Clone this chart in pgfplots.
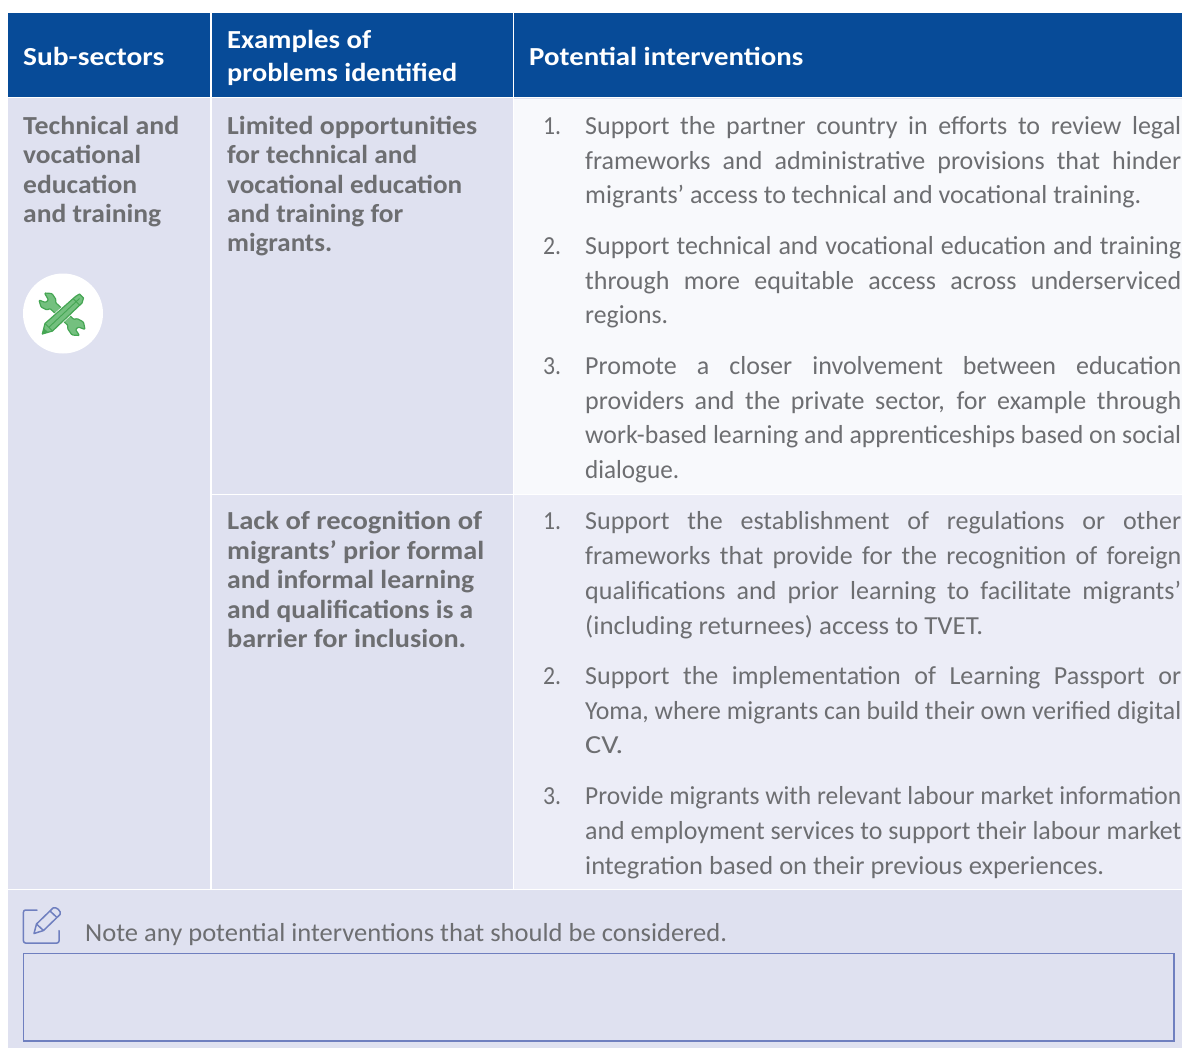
\documentclass[border=0pt]{standalone}
\usepackage{graphicx}
\usepackage{fontspec}
\setmainfont{Carlito}
\usepackage{pgfplots}
\pgfplotsset{compat=1.18}
\definecolor{hdr}{HTML}{074B98}
\definecolor{lav}{HTML}{DFE1F0}
\definecolor{rowa}{HTML}{F8F9FC}
\definecolor{rowb}{HTML}{ECEDF7}
\definecolor{txt}{HTML}{6D6E71}
\definecolor{boxc}{HTML}{6F7FBF}
\definecolor{grn}{HTML}{45A653}
\definecolor{grl}{HTML}{74C07F}
\newsavebox\lb
\newcommand\fitJ[2]{\sbox\lb{#2}\ifdim\wd\lb>#1pt\relax\resizebox{#1pt}{\height}{\usebox\lb}\else\makebox[#1pt][s]{#2}\fi}
\newcommand\fitN[2]{\sbox\lb{#2}\resizebox{#1pt}{\height}{\usebox\lb}}
\newcommand\J[4]{\node[anchor=base west,inner sep=0pt,text=txt,font=\fontsize{26}{30}\selectfont] at (axis cs:#1,#2) {\fitJ{#3}{#4}};}
\newcommand\N[4]{\node[anchor=base west,inner sep=0pt,text=txt,font=\fontsize{26}{30}\selectfont] at (axis cs:#1,#2) {\fitN{#3}{#4}};}
\newcommand\B[4]{\node[anchor=base west,inner sep=0pt,text=txt,font=\fontsize{26}{30}\selectfont\bfseries] at (axis cs:#1,#2) {\fitN{#3}{#4}};}
\newcommand\Hd[4]{\node[anchor=base west,inner sep=0pt,text=white,font=\fontsize{26}{30}\selectfont\bfseries] at (axis cs:#1,#2) {\fitN{#3}{#4}};}
\begin{document}
\begin{tikzpicture}
\begin{axis}[scale only axis,width=1182pt,height=1047pt,xmin=0,xmax=1182,ymin=-0.5,ymax=1046.5,y dir=reverse,hide axis,no marks]
% panels
\addplot[fill=white,draw=none] coordinates {(-2,-2)(1184,-2)(1184,1049)(-2,1049)} --cycle;
\addplot[fill=lav,draw=none] coordinates {(8,97)(1184,97)(1184,1049)(8,1049)} --cycle;
\addplot[fill=hdr,draw=none] coordinates {(8,12.5)(1184,12.5)(1184,97)(8,97)} --cycle;
\addplot[fill=rowa,draw=none] coordinates {(513.5,98)(1184,98)(1184,494)(513.5,494)} --cycle;
\addplot[fill=rowb,draw=none] coordinates {(513.5,494)(1184,494)(1184,889)(513.5,889)} --cycle;
% rules
\addplot[white,line width=1.5pt] coordinates {(8,97)(1184,97)};
\addplot[white,line width=1.5pt] coordinates {(8,889)(1184,889)};
\addplot[white,line width=1.5pt] coordinates {(211,494)(1184,494)};
\addplot[white,line width=1.5pt] coordinates {(211,12.5)(211,889)};
\addplot[white,line width=1.5pt] coordinates {(513.5,12.5)(513.5,889)};
% header
\Hd{23}{65}{141}{Sub-sectors}
\Hd{227}{48}{144}{Examples of}
\Hd{227}{81}{230}{problems identified}
\Hd{529}{65}{274}{Potential interventions}
% column 1
\B{23}{134}{156}{Technical and}
\B{23}{163}{118}{vocational}
\B{23}{193}{114}{education}
\B{23}{222}{138}{and training}
% column 2
\B{227}{134}{250}{Limited opportunities}
\B{227}{163}{190}{for technical and}
\B{227}{193}{235}{vocational education}
\B{227}{222}{176}{and training for}
\B{227}{251}{105}{migrants.}
\B{227}{529}{255}{Lack of recognition of}
\B{227}{559}{257}{migrants’ prior formal}
\B{227}{588}{247}{and informal learning}
\B{227}{618}{246}{and qualifications is a}
\B{227}{647}{239}{barrier for inclusion.}
% column 3
\N{543}{134}{18}{1.}
\J{585}{134}{596}{Support the partner country in efforts to review legal}
\J{585}{169}{596}{frameworks and administrative provisions that hinder}
\N{585}{203}{556}{migrants’ access to technical and vocational training.}
\N{543}{254}{18}{2.}
\J{585}{254}{596}{Support technical and vocational education and training}
\J{585}{289}{596}{through more equitable access across underserviced}
\N{585}{323}{83}{regions.}
\N{543}{374}{18}{3.}
\J{585}{374}{596}{Promote a closer involvement between education}
\J{585}{409}{596}{providers and the private sector, for example through}
\J{585}{443}{596}{work-based learning and apprenticeships based on social}
\N{585}{478}{94}{dialogue.}
\N{543}{529}{18}{1.}
\J{585}{529}{596}{Support the establishment of regulations or other}
\J{585}{564}{596}{frameworks that provide for the recognition of foreign}
\J{585}{599}{596}{qualifications and prior learning to facilitate migrants’}
\N{585}{634}{398}{(including returnees) access to TVET.}
\N{543}{684}{18}{2.}
\J{585}{684}{596}{Support the implementation of Learning Passport or}
\J{585}{719}{596}{Yoma, where migrants can build their own verified digital}
\N{585}{753}{38}{CV.}
\N{543}{804}{18}{3.}
\J{585}{804}{596}{Provide migrants with relevant labour market information}
\J{585}{839}{596}{and employment services to support their labour market}
\N{585}{874}{519}{integration based on their previous experiences.}
% note
\N{85}{941}{642}{Note any potential interventions that should be considered.}
\addplot[boxc,line width=1.1pt] coordinates {(23.5,953)(1174,953)(1174,1040.5)(23.5,1040.5)} --cycle;
% note icon
\draw[boxc,line width=1.5pt,line cap=round,line join=round,rounded corners=2pt] (37,909.5)--(23.5,909.5)--(23.5,942.5)--(59,942.5)--(59,930);
\draw[boxc,line width=1.5pt,line join=round] (34,933)--(36.5,923.5)--(53,907.5) .. controls (56,905.5) and (62,911) .. (60,914)--(43.5,930)--cycle;
\draw[boxc,line width=1.5pt] (36.5,923.5)--(43.5,930) (50,910.5)--(57,917);
% round tool icon
\fill[white] (63,313) circle[radius=40];
\draw[grn,fill=grl,line width=1.2pt,line join=round,rounded corners=1pt]
 (44.5,292.5)--(52,293)--(56,299)--(55.5,302)--(74,319)--(77,318)--(83.5,321.5)--(85,329)--(78.5,326.5)--(75.5,329)--(79.5,335)--(72,334.5)--(67.5,328)--(68,325)--(50,308)--(47,309.5)--(41,306.5)--(39,299.5)--(45.5,302)--(48.5,299.5)--cycle;
\draw[white,line width=2.5pt,line join=round] (42.3,333.5)--(45,323)--(75.5,296)--(79.5,293.5)--(83.5,297.5)--(82,302.5)--(52.5,330.5)--cycle;
\fill[grl,draw=grn,line width=1.2pt,line join=round] (42.3,333.5)--(45,323)--(75.5,296)--(79.5,293.5)--(83.5,297.5)--(82,302.5)--(52.5,330.5)--cycle;
\draw[grn,line width=.9pt] (45,323)--(52.5,330.5) (48.8,326.8)--(79.5,298) (73,298)--(80,305);
\fill[grn] (42.3,333.5)--(43.5,327.5)--(48,331.5)--cycle;
\end{axis}
\end{tikzpicture}
\end{document}
